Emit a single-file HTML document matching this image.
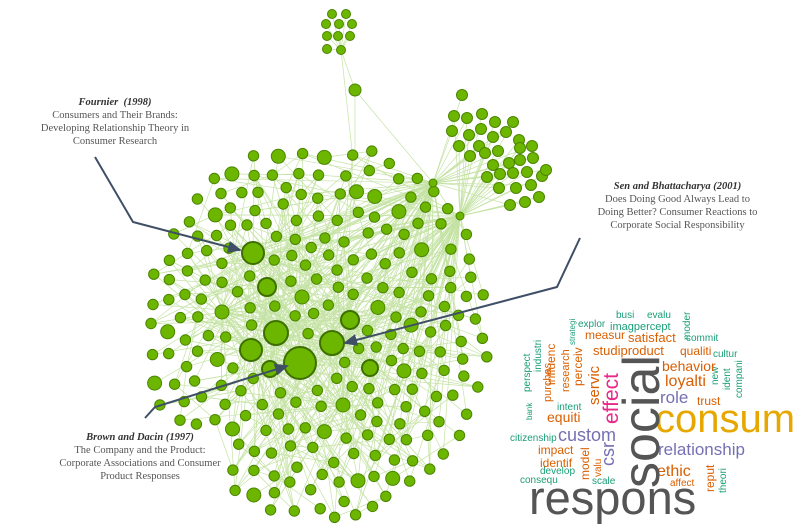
<!DOCTYPE html>
<html><head><meta charset="utf-8"><style>
body{margin:0;background:#fff;width:800px;height:530px;overflow:hidden;position:relative;font-family:"Liberation Serif",serif}
.lab{position:absolute;text-align:center;color:#555;font-size:10.5px;line-height:13px}
.lab b{font-style:italic;color:#333}
svg{position:absolute;left:0;top:0}
</style></head><body>
<svg id="g" width="800" height="530"></svg>
<div class="lab" style="left:10px;top:96px;width:210px"><b>Fournier &nbsp;(1998)</b><br>Consumers and Their Brands:<br>Developing Relationship Theory in<br>Consumer Research</div>
<div class="lab" style="left:565px;top:180px;width:225px"><b>Sen and Bhattacharya (2001)</b><br>Does Doing Good Always Lead to<br>Doing Better? Consumer Reactions to<br>Corporate Social Responsibility</div>
<div class="lab" style="left:20px;top:431px;width:240px"><b>Brown and Dacin (1997)</b><br>The Company and the Product:<br>Corporate Associations and Consumer<br>Product Responses</div>
<svg width="800" height="530" style="font-family:'Liberation Sans',sans-serif">
<g fill="#1b9e77" font-size="10">
<text x="616" y="318">busi</text><text x="647" y="318">evalu</text>
<text x="578" y="327">explor</text><text x="686" y="341" font-size="10">commit</text>
<text x="713" y="357">cultur</text><text x="557" y="410">intent</text>
<text x="510" y="441">citizenship</text><text x="540" y="474">develop</text>
<text x="520" y="483">consequ</text><text x="592" y="484">scale</text>
<text transform="translate(690,340) rotate(-90)">moder</text>
<text transform="translate(575,345) rotate(-90)" font-size="8">strategi</text>
<text transform="translate(530,392) rotate(-90)">perspect</text>
<text transform="translate(541,372) rotate(-90)">industri</text>
<text transform="translate(532,420) rotate(-90)" font-size="8">bank</text>
<text transform="translate(718,385) rotate(-90)">new</text>
<text transform="translate(730,390) rotate(-90)">ident</text>
<text transform="translate(742,398) rotate(-90)">compani</text>
<text transform="translate(726,493) rotate(-90)">theori</text>
</g>
<g fill="#1b9e77" font-size="11"><text x="610" y="330">imagpercept</text></g>
<g fill="#d95f02">
<text x="585" y="339" font-size="12">measur</text>
<text x="628" y="342" font-size="13">satisfact</text>
<text x="593" y="355" font-size="13">studiproduct</text>
<text x="680" y="355" font-size="12">qualiti</text>
<text x="662" y="371" font-size="14">behavior</text>
<text x="665" y="386" font-size="16">loyalti</text>
<text x="697" y="405" font-size="12">trust</text>
<text x="547" y="422" font-size="14">equiti</text>
<text x="538" y="454" font-size="12">impact</text>
<text x="540" y="467" font-size="12">identif</text>
<text x="657" y="476" font-size="16">ethic</text>
<text x="670" y="486" font-size="10">affect</text>
<text transform="translate(551,402) rotate(-90)" font-size="11">purchas</text>
<text transform="translate(555,385) rotate(-90)" font-size="12">influenc</text>
<text transform="translate(569,392) rotate(-90)" font-size="11">research</text>
<text transform="translate(582,386) rotate(-90)" font-size="12">perceiv</text>
<text transform="translate(599,405) rotate(-90)" font-size="15">servic</text>
<text transform="translate(589,480) rotate(-90)" font-size="12">model</text>
<text transform="translate(601,477) rotate(-90)" font-size="10">valu</text>
<text transform="translate(714,492) rotate(-90)" font-size="12">reput</text>
</g>
<g fill="#7570b3">
<text x="558" y="441" font-size="18">custom</text>
<text x="660" y="403" font-size="17">role</text>
<text x="658" y="455" font-size="17">relationship</text>
<text transform="translate(614,466) rotate(-90)" font-size="18">csr</text>
</g>
<text transform="translate(618,424) rotate(-90)" font-size="21" fill="#e7298a">effect</text>
<text x="655" y="432" font-size="40" fill="#e6a700">consum</text>
<text transform="translate(659,488) rotate(-90)" font-size="52" fill="#555">social</text>
<text x="529" y="514" font-size="47" fill="#555">respons</text>
</svg>
<script>
var s=7;function r(){s=(s*16807)%2147483647;return (s-1)/2147483646;}
var N=[];
function ins(x,y){var dx=(x-318)/172,dy=(y-330)/190;var d=dx*dx+dy*dy;if(y<150||y>522||x<143)return false;if(x<232&&y>425)return false;return d<1;}
var big=[[253,253,11],[267,287,9],[276,333,12],[300,363,16],[332,343,12],[350,320,9],[251,350,11],[270,369,8],[343,405,7],[302,297,7],[370,368,8],[222,312,7]];
big.forEach(function(b){N.push({x:b[0],y:b[1],r:b[2]})});
for(var t=0;t<30000&&N.length<470;t++){var x=140+r()*370,y=145+r()*380;if(!ins(x,y))continue;var ok=true;for(var i=0;i<N.length;i++){var a=N[i];var dd=Math.hypot(a.x-x,a.y-y);if(dd<a.r+11){ok=false;break}}if(ok)N.push({x:x,y:y,r:5.2+(r()<0.12?1.8:0)});}
var main=N.length;
var tc=[[332,14],[346,14],[326,24],[339,24],[352,24],[327,36],[338,36],[350,36],[327,49],[341,50]];
tc.forEach(function(p){N.push({x:p[0],y:p[1],r:4.5})});
N.push({x:355,y:90,r:6});
var hub1={x:433,y:183,r:4},hub2={x:460,y:216,r:4};
var rc=[[462,95],[454,116],[467,118],[482,114],[452,131],[469,135],[481,129],[495,122],[513,122],[459,146],[479,146],[493,137],[506,132],[519,140],[470,156],[485,153],[498,151],[520,148],[532,146],[493,165],[509,163],[520,160],[533,158],[487,177],[500,174],[513,173],[527,172],[542,176],[499,188],[516,188],[531,185],[539,197],[510,205],[525,202],[546,170]];
var rcI=N.length;rc.forEach(function(p){N.push({x:p[0],y:p[1],r:5.5})});
N.push(hub1,hub2);
var svg=document.getElementById('g'),h='<g stroke="#9fd06a" stroke-width="0.7" opacity="0.6">';
function L(a,b){h+='<line x1="'+a.x.toFixed(1)+'" y1="'+a.y.toFixed(1)+'" x2="'+b.x.toFixed(1)+'" y2="'+b.y.toFixed(1)+'"/>'}
for(var i=0;i<main;i++){var a=N[i];var k=2+Math.floor(r()*3);for(var j=0;j<k;j++){var b=N[Math.floor(r()*main)];if(Math.hypot(a.x-b.x,a.y-b.y)<100)L(a,b);}
 if(i<12){for(var j=0;j<30;j++)L(a,N[Math.floor(r()*main)]);}}
for(var i=0;i<70;i++){L(hub1,N[Math.floor(r()*main)]);L(hub2,N[Math.floor(r()*main)]);}
for(var i=rcI;i<rcI+rc.length;i++){L(N[i],i%2?hub1:hub2);if(i%3==0)L(N[i],hub2);}
for(var i=0;i<tc.length;i++)L(N[main+i],N[main+9]);
L(N[main+9],N[main+10]);L(N[main+10],hub1);L(N[main+9],{x:352,y:150});L(N[main+10],{x:355,y:155});
h+='</g><g fill="#6cb600" stroke="#4a8500" stroke-width="1">';
N.forEach(function(n){h+='<circle cx="'+n.x.toFixed(1)+'" cy="'+n.y.toFixed(1)+'" r="'+n.r+'"'+(n.r>7?' stroke-width="2" stroke="#3e7000"':'')+'/>'});
h+='</g><defs><marker id="m" markerWidth="14" markerHeight="12" refX="12" refY="6" orient="auto" markerUnits="userSpaceOnUse"><path d="M0,0 L14,6 L0,12z" fill="#3f4f66"/></marker></defs>'+
'<g stroke="#3f4f66" stroke-width="2" fill="none" marker-end="url(#m)"><polyline points="95,157 133,222 240,250"/><polyline points="580,238 557,287 345,343"/><polyline points="145,418 155,407 287,366"/></g>';
svg.innerHTML=h;
</script>
</body></html>
